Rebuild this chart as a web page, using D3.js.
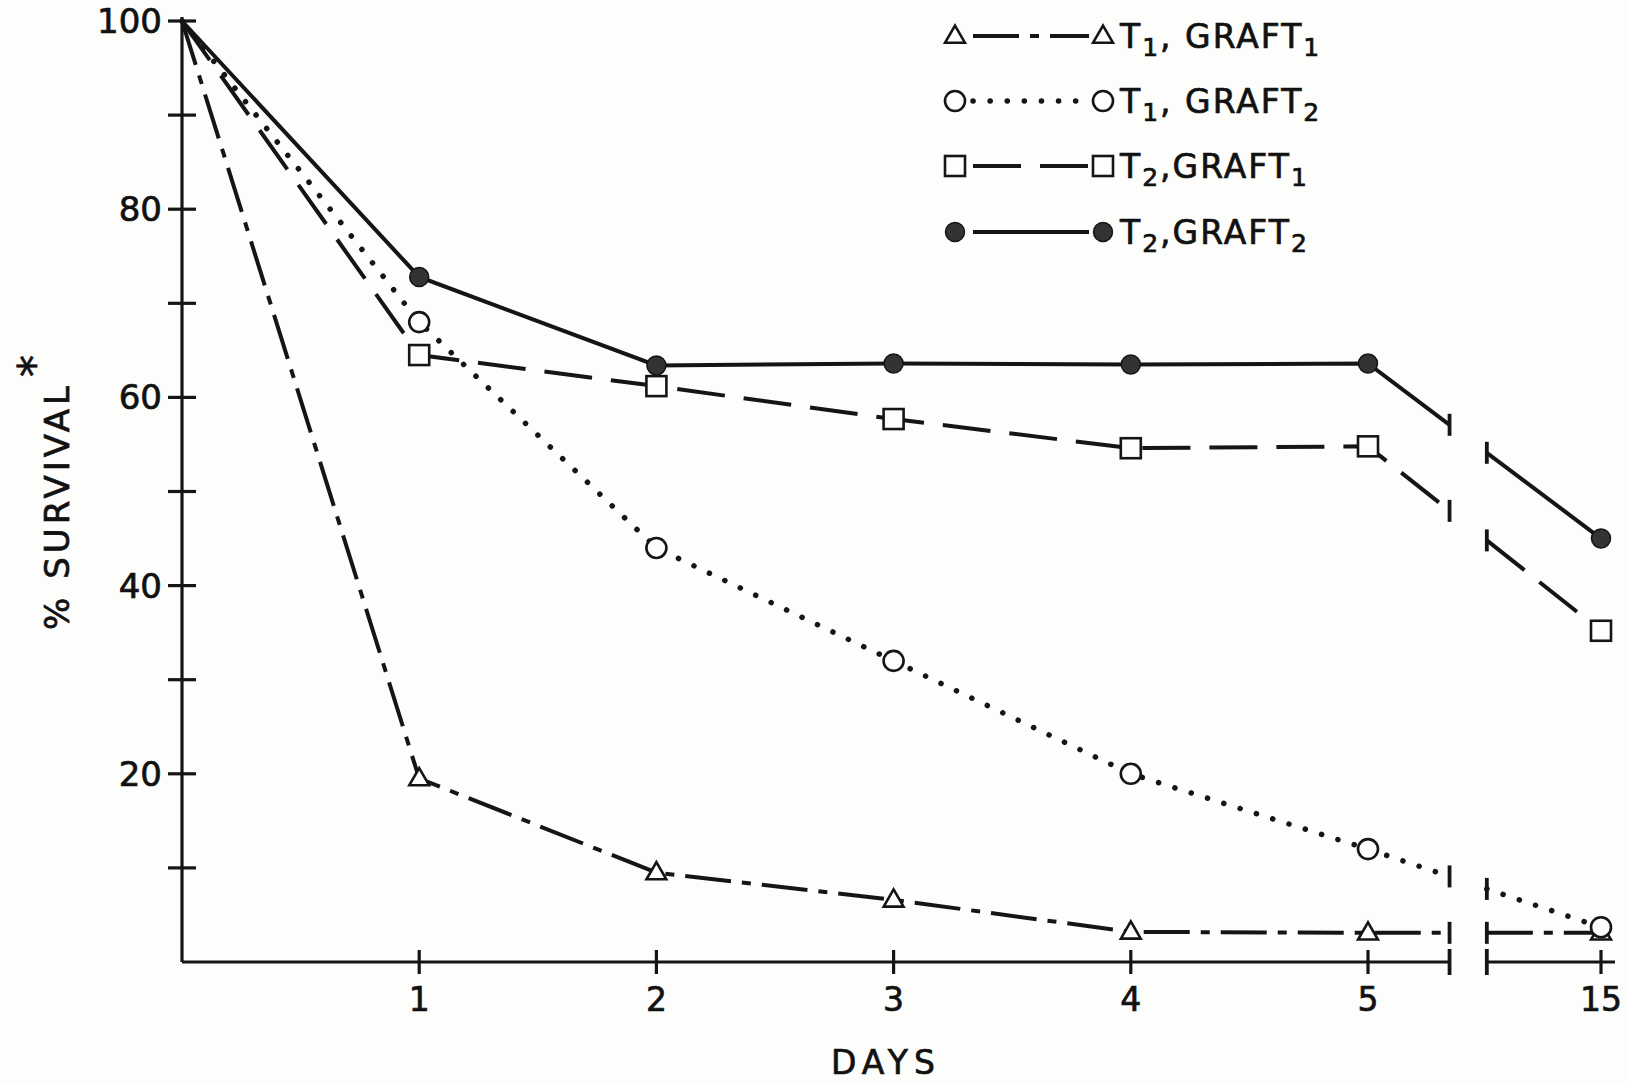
<!DOCTYPE html>
<html>
<head>
<meta charset="utf-8">
<script src="https://cdn.jsdelivr.net/npm/d3@7"></script>
<style>
  body { margin: 0; background: #fdfdfb; }
  text { font-family: "DejaVu Sans", sans-serif; fill: #111; stroke: #111; stroke-width: 0.7; }
</style>
</head>
<body>
<div id="canvas"></div>
<script>
"use strict"

/* Data */
let days = [0, 1, 2, 3, 4, 5, 15];
let t1Graft1 = [100, 19.5, 9.5, 6.6, 3.2, 3.1, 3.1];
let t1Graft2 = [100, 68, 44, 32, 20, 12, 3.7];
let t2Graft1 = [100, 64.5, 61.2, 57.7, 54.6, 54.8, 35.2];
let t2Graft2 = [100, 72.8, 63.4, 63.6, 63.5, 63.6, 45];
let yTicks = [10, 20, 30, 40, 50, 60, 70, 80, 90, 100];
let yLabels = [20, 40, 60, 80, 100];
let xTickDays = [1, 2, 3, 4, 5, 15];
let breakDays = [8.5, 10.1]; /* axis break between day 5 and day 15 */

/* Drawing setup */
let svgWidth = 1627;
let svgHeight = 1083;

let svg = d3.select("#canvas")
    .append("svg")
    .attr("width", svgWidth)
    .attr("height", svgHeight);

svg.append("rect")
    .attr("width", svgWidth)
    .attr("height", svgHeight)
    .attr("fill", "#fdfdfb");

/* piecewise scale: day 15 sits one day-width after day 5 */
let xScale = d3.scaleLinear()
    .domain([0, 5, 15])
    .range([182, 1368, 1601]);

let yScale = d3.scaleLinear()
    .domain([0, 100])
    .range([962, 21]);

let ink = "#151515";

/* series styles */
let series = [
    {name: "t1g1", values: t1Graft1, dash: "46,11,9,11", width: 4, cap: "butt", marker: "triangle"},
    {name: "t1g2", values: t1Graft2, dash: "0.1,17", width: 5.5, cap: "round", marker: "circle"},
    {name: "t2g1", values: t2Graft1, dash: "48,19", width: 4, cap: "butt", marker: "square"},
    {name: "t2g2", values: t2Graft2, dash: null, width: 4, cap: "butt", marker: "dot"}
];

/* value of a series at a break day (straight between day 5 and day 15) */
function valueAt(values, day) {
    let v5 = values[5];
    let v15 = values[6];
    return v5 + (v15 - v5) * (day - 5) / 10;
}

/* Axes */
let axes = svg.append("g");

/* y axis line */
axes.append("line")
    .attr("x1", xScale(0)).attr("x2", xScale(0))
    .attr("y1", yScale(100) - 4).attr("y2", yScale(0))
    .attr("stroke", ink).attr("stroke-width", 3.2);

/* x axis, broken */
axes.append("line")
    .attr("x1", xScale(0)).attr("x2", xScale(breakDays[0]))
    .attr("y1", yScale(0)).attr("y2", yScale(0))
    .attr("stroke", ink).attr("stroke-width", 3.2);

axes.append("line")
    .attr("x1", xScale(breakDays[1])).attr("x2", xScale(15) + 14)
    .attr("y1", yScale(0)).attr("y2", yScale(0))
    .attr("stroke", ink).attr("stroke-width", 3.2);

/* break bars on x axis */
axes.selectAll(".xbreak")
    .data(breakDays)
    .join("line")
    .attr("x1", d => xScale(d)).attr("x2", d => xScale(d))
    .attr("y1", yScale(0) - 13).attr("y2", yScale(0) + 13)
    .attr("stroke", ink).attr("stroke-width", 3.8);

/* y ticks */
axes.selectAll(".ytick")
    .data(yTicks)
    .join("line")
    .attr("x1", xScale(0) - 14).attr("x2", xScale(0) + 14)
    .attr("y1", d => yScale(d)).attr("y2", d => yScale(d))
    .attr("stroke", ink).attr("stroke-width", 3.2);

axes.selectAll(".ylabel")
    .data(yLabels)
    .join("text")
    .attr("x", xScale(0) - 20)
    .attr("y", d => yScale(d))
    .attr("text-anchor", "end")
    .attr("dominant-baseline", "central")
    .attr("font-size", 34)
    .text(d => String(d));

/* x ticks */
axes.selectAll(".xtick")
    .data(xTickDays)
    .join("line")
    .attr("x1", d => xScale(d)).attr("x2", d => xScale(d))
    .attr("y1", yScale(0) - 12).attr("y2", yScale(0) + 12)
    .attr("stroke", ink).attr("stroke-width", 3.2);

axes.selectAll(".xlabel")
    .data(xTickDays)
    .join("text")
    .attr("x", d => xScale(d))
    .attr("y", yScale(0) + 49)
    .attr("text-anchor", "middle")
    .attr("font-size", 33)
    .text(d => String(d));

/* axis titles */
svg.append("text")
    .attr("x", 886)
    .attr("y", 1074)
    .attr("text-anchor", "middle")
    .attr("font-size", 33)
    .attr("letter-spacing", 6)
    .text("DAYS");

svg.append("text")
    .attr("transform", "translate(69,506) rotate(-90)")
    .attr("text-anchor", "middle")
    .attr("font-size", 34)
    .attr("letter-spacing", 4)
    .text("% SURVIVAL");

svg.append("text")
    .attr("transform", "translate(50,366) rotate(-90)")
    .attr("text-anchor", "middle")
    .attr("font-size", 44)
    .text("*");

/* Lines */
let line = d3.line()
    .x(d => xScale(d.day))
    .y(d => yScale(d.value));

let lines = svg.append("g");

series.forEach(function (s) {
    let firstPart = days.slice(0, 6).map((day, i) => ({day: day, value: s.values[i]}));
    firstPart.push({day: breakDays[0], value: valueAt(s.values, breakDays[0])});
    let secondPart = [
        {day: breakDays[1], value: valueAt(s.values, breakDays[1])},
        {day: 15, value: s.values[6]}
    ];
    [firstPart, secondPart].forEach(function (part) {
        lines.append("path")
            .datum(part)
            .attr("d", line)
            .attr("fill", "none")
            .attr("stroke", ink)
            .attr("stroke-width", s.width)
            .attr("stroke-linecap", s.cap)
            .attr("stroke-dasharray", s.dash);
    });
    /* break bars on each line */
    lines.selectAll(".bar-" + s.name)
        .data(breakDays)
        .join("line")
        .attr("x1", d => xScale(d)).attr("x2", d => xScale(d))
        .attr("y1", d => yScale(valueAt(s.values, d)) - 11)
        .attr("y2", d => yScale(valueAt(s.values, d)) + 11)
        .attr("stroke", ink)
        .attr("stroke-width", 3.8);
});

/* Markers */
function drawMarker(g, type, x, y) {
    if (type === "triangle") {
        g.append("path")
            .attr("d", d3.symbol().type(d3.symbolTriangle).size(170)())
            .attr("transform", "translate(" + x + "," + (y + 1) + ")")
            .attr("fill", "#fdfdfb")
            .attr("stroke", ink)
            .attr("stroke-width", 2.6);
    } else if (type === "circle") {
        g.append("circle")
            .attr("cx", x).attr("cy", y).attr("r", 10)
            .attr("fill", "#fdfdfb")
            .attr("stroke", ink)
            .attr("stroke-width", 2.6);
    } else if (type === "square") {
        g.append("rect")
            .attr("x", x - 10).attr("y", y - 10)
            .attr("width", 20).attr("height", 20)
            .attr("fill", "#fdfdfb")
            .attr("stroke", ink)
            .attr("stroke-width", 2.6);
    } else {
        g.append("circle")
            .attr("cx", x).attr("cy", y).attr("r", 9.5)
            .attr("fill", "#333")
            .attr("stroke", ink)
            .attr("stroke-width", 1.5);
    }
}

let markers = svg.append("g");
series.forEach(function (s) {
    days.forEach(function (day, i) {
        if (day === 0) return;
        drawMarker(markers, s.marker, xScale(day), yScale(s.values[i]));
    });
});

/* Legend */
let legendRows = [
    {s: series[0], t: "1", g: "1", y: 36},
    {s: series[1], t: "1", g: "2", y: 101},
    {s: series[2], t: "2", g: "1", y: 166},
    {s: series[3], t: "2", g: "2", y: 232}
];

let legend = svg.append("g");

legendRows.forEach(function (row) {
    let x1 = 955;
    let x2 = 1103;
    legend.append("line")
        .attr("x1", x1 + 18).attr("x2", x2 - 14)
        .attr("y1", row.y).attr("y2", row.y)
        .attr("stroke", ink)
        .attr("stroke-width", row.s.width)
        .attr("stroke-linecap", row.s.cap)
        .attr("stroke-dasharray", row.s.dash);
    drawMarker(legend, row.s.marker, x1, row.y);
    drawMarker(legend, row.s.marker, x2, row.y);

    let label = legend.append("text")
        .attr("x", 1120)
        .attr("y", row.y + 12)
        .attr("font-size", 33)
        .attr("letter-spacing", 2);
    label.append("tspan").text("T");
    label.append("tspan").attr("font-size", 25).attr("dy", 8).text(row.t);
    label.append("tspan").attr("dy", -8).text(row.t === "1" ? ", GRAFT" : ",GRAFT");
    label.append("tspan").attr("font-size", 25).attr("dy", 8).text(row.g);
});
</script>
</body>
</html>
